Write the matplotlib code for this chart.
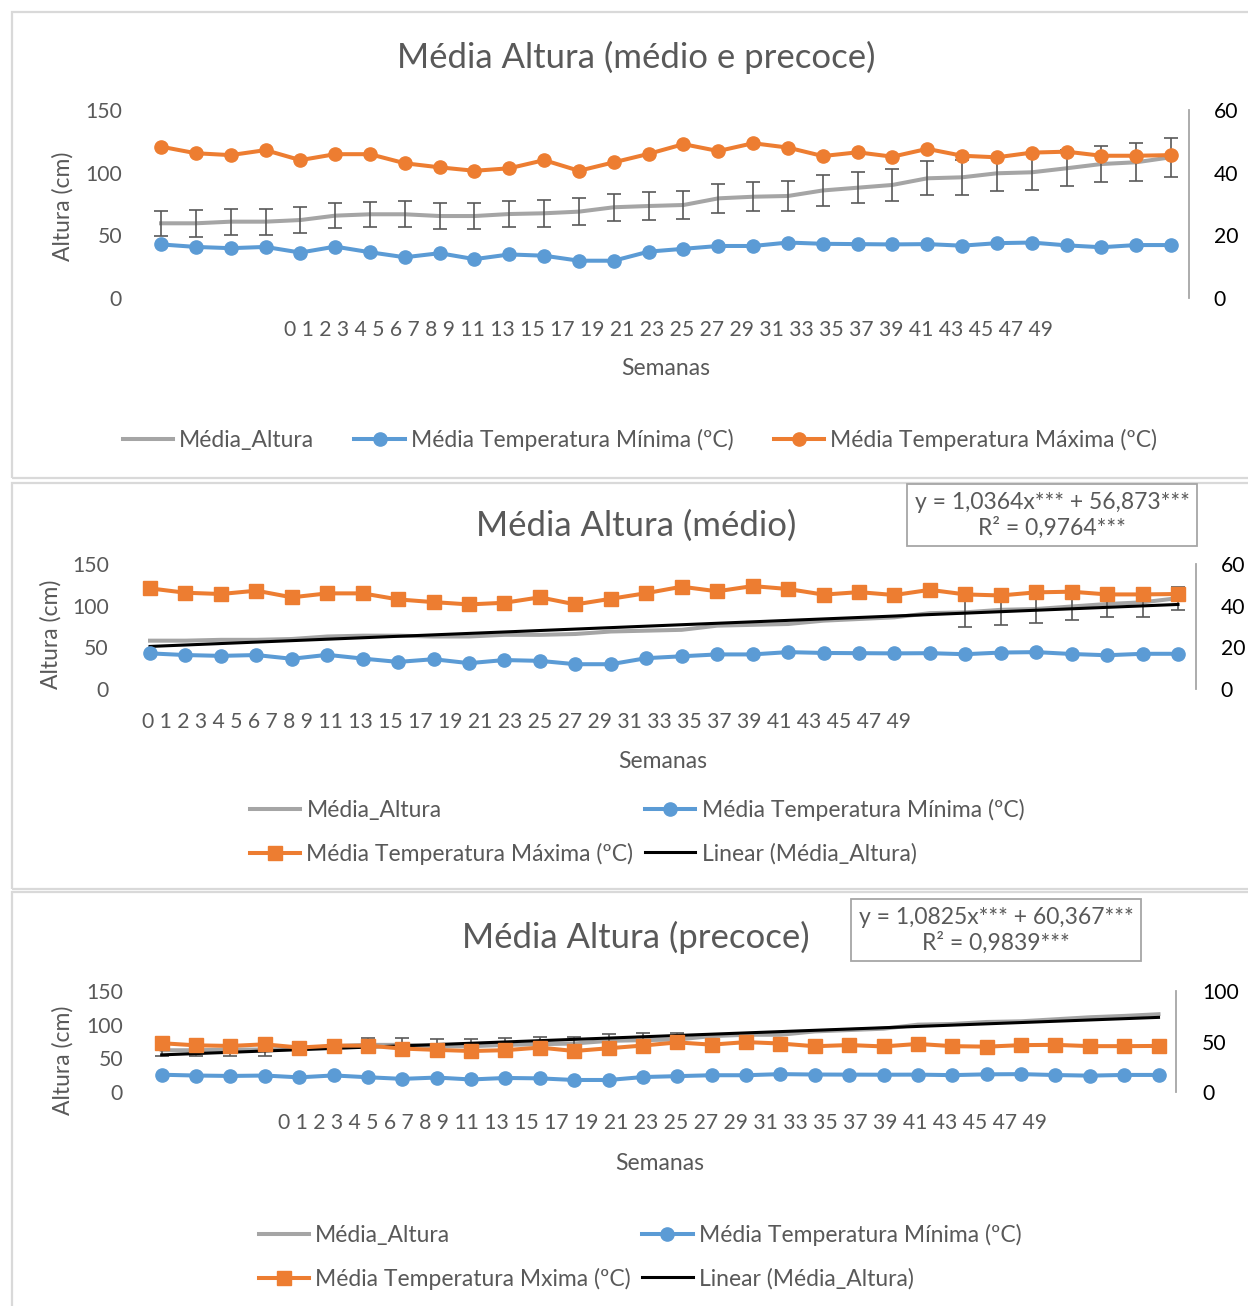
import numpy as np
import matplotlib
matplotlib.use("Agg")
import matplotlib.pyplot as plt
from matplotlib.patches import Rectangle

plt.rcParams['font.family'] = ['Lato', 'DejaVu Sans']

# -----------------------
# DATA
# -----------------------
semanas = [0, 1, 2, 3, 4, 5, 6, 7, 8, 9, 11, 13, 15, 17, 19, 21, 23, 25, 27, 29,
           31, 33, 35, 37, 39, 41, 43, 45, 47, 49]

temp_min = [17.1, 16.3, 15.9, 16.3, 14.5, 16.4, 14.6, 13.0, 14.3, 12.4,
            13.9, 13.5, 11.9, 11.9, 14.8, 15.7, 16.6, 16.6, 17.7, 17.3,
            17.2, 17.1, 17.2, 16.7, 17.5, 17.7, 16.8, 16.2, 16.9, 16.9]

temp_max = [48.3, 46.2, 45.6, 47.2, 44.0, 45.9, 45.9, 43.0, 41.7, 40.6,
            41.4, 44.0, 40.6, 43.3, 46.0, 49.1, 46.9, 49.4, 48.0, 45.3,
            46.5, 45.1, 47.6, 45.4, 44.9, 46.4, 46.7, 45.4, 45.4, 45.6]

altura_media = [59.6, 59.6, 60.9, 60.9, 62.2, 65.7, 66.8, 66.8, 65.4, 65.4,
                67.0, 67.6, 68.9, 72.4, 73.4, 74.2, 79.5, 80.8, 81.4, 85.8,
                88.0, 90.2, 95.5, 96.3, 99.5, 100.3, 103.5, 106.9, 108.3, 112.3]

altura_medio = [58, 58, 59, 59, 60, 63, 64, 64, 63, 63,
                65, 65, 66, 69, 70, 71, 76, 77, 78, 82,
                84, 86, 91, 92, 95, 96, 99, 102, 104, 109]

altura_precoce = [62, 62, 63, 63, 65, 68, 70, 70, 68, 68,
                  70, 71, 72, 76, 77, 78, 83, 85, 85, 90,
                  92, 94, 100, 101, 104, 105, 108, 111, 113, 115.5]

# standard deviation of height (0 = no bar shown)
erro_media = [10, 10.6, 10.3, 10.5, 10.1, 9.9, 10, 10.3, 10.5, 10.5,
              10.4, 10.6, 10.8, 10.9, 10.9, 11, 11.3, 11.5, 11.8, 12.1,
              12.6, 12.6, 13.6, 13.8, 13.9, 14.2, 14.4, 14.6, 15, 15.4]
erro_medio = [0] * 23 + [18, 18, 17, 16, 16, 17, 14]
erro_precoce = [9] * 6 + [10] * 10 + [0] * 14

eq_medio = "y = 1,0364x*** + 56,873***\nR² = 0,9764***"
eq_precoce = "y = 1,0825x*** + 60,367***\nR² = 0,9839***"

# -----------------------
# STYLE
# -----------------------
W, H, DPI = 1248, 1306, 100
GRAY = '#A5A5A5'
BLUE = '#5B9BD5'
ORANGE = '#ED7D31'
TXT = '#595959'
FS = 16.5       # legend / axis titles
FS_NUM = 15.2   # numbers on the axes


def fx(px):
    return px / W


def fy(py):
    return 1 - py / H


fig = plt.figure(figsize=(W / DPI, H / DPI), dpi=DPI)
x = np.arange(len(semanas))
week_text = " ".join(str(s) for s in semanas)

# chart frames
for y0, y1 in [(12, 478), (483, 889), (892, 1330)]:
    fig.patches.append(Rectangle((fx(12), fy(y1)), fx(1300), (y1 - y0) / H,
                                 transform=fig.transFigure, fill=False,
                                 ec='#D9D9D9', lw=1.6))


def draw_panel(box, title, title_y, altura, erro, rmax, rticks, max_marker,
               max_label, trend, ylab_xy, ticks_xy, xlab_xy, leg_xy, ncol,
               colspace, lpad, rpad, eq=None, eq_xy=None):
    x0, x1, ytop, ybot = box
    ax = fig.add_axes([fx(x0), fy(ybot), fx(x1) - fx(x0), (ybot - ytop) / H])
    ax.set_xlim(-0.5, len(x) - 0.5)
    ax.set_ylim(0, 150)
    ax.set_yticks([0, 50, 100, 150])
    ax.set_xticks([])
    for s in ax.spines.values():
        s.set_visible(False)
    ax.tick_params(axis='y', length=0, pad=lpad, labelsize=FS_NUM, labelcolor=TXT)

    alt = np.array(altura)
    err = np.array(erro, dtype=float)
    l_alt, = ax.plot(x, alt, color=GRAY, lw=2.9, zorder=2)
    m = err > 0
    ax.errorbar(x[m], alt[m], yerr=err[m], fmt='none', ecolor='#595959',
                elinewidth=1.2, capsize=5, capthick=1.2, zorder=3)
    if trend:
        coef = np.polyfit(x, alt, 1)
        l_tr, = ax.plot(x, np.polyval(coef, x), color='black', lw=2.2, zorder=4)

    ax2 = ax.twinx()
    ax2.set_ylim(0, rmax)
    ax2.set_yticks(rticks)
    for k, s in ax2.spines.items():
        s.set_visible(k == 'right')
    ax2.spines['right'].set_color('#A6A6A6')
    ax2.spines['right'].set_linewidth(1.3)
    ax2.tick_params(axis='y', length=0, pad=rpad, labelsize=FS_NUM,
                    labelcolor='black')
    l_min, = ax2.plot(x, temp_min, color=BLUE, lw=2.9, marker='o', ms=9.5)
    l_max, = ax2.plot(x, temp_max, color=ORANGE, lw=2.9, marker=max_marker, ms=9.5)

    fig.text(fx(636), fy(title_y), title, ha='center', va='center',
             fontsize=25, color=TXT)
    fig.text(fx(ylab_xy[0]), fy(ylab_xy[1]), 'Altura (cm)', rotation=90,
             ha='center', va='center', fontsize=FS, color=TXT)
    fig.text(fx(ticks_xy[0]), fy(ticks_xy[1]), week_text, ha='center',
             va='center', fontsize=FS_NUM, color=TXT)
    fig.text(fx(xlab_xy[0]), fy(xlab_xy[1]), 'Semanas', ha='center',
             va='center', fontsize=FS, color=TXT)

    if trend:
        handles = [l_alt, l_max, l_min, l_tr]
        labels = ['Média_Altura', max_label, 'Média Temperatura Mínima (ºC)',
                  'Linear (Média_Altura)']
    else:
        handles = [l_alt, l_min, l_max]
        labels = ['Média_Altura', 'Média Temperatura Mínima (ºC)', max_label]
    fig.legend(handles, labels, loc='center',
               bbox_to_anchor=(fx(leg_xy[0]), fy(leg_xy[1])), ncol=ncol,
               frameon=False, fontsize=FS, labelcolor=TXT, handlelength=2.2,
               handletextpad=0.27, columnspacing=colspace, labelspacing=0.95,
               borderpad=0)

    if eq:
        fig.text(fx(eq_xy[0]), fy(eq_xy[1]), eq, ha='center', va='center',
                 multialignment='center', fontsize=FS, color=TXT,
                 bbox=dict(boxstyle='square,pad=0.35', fc='white',
                           ec='#A6A6A6', lw=1.3))


# -----------------------
# CHARTS
# -----------------------
draw_panel((143.6, 1188.5, 110, 298), 'Média Altura (médio e precoce)', 57,
           altura_media, erro_media, 60, [0, 20, 40, 60], 'o',
           'Média Temperatura Máxima (ºC)', False,
           (63, 206), (669, 330), (666, 368), (640, 440), 3, 1.75, 15.5, 18)

draw_panel((132.3, 1195.7, 564, 689), 'Média Altura (médio)', 526,
           altura_medio, erro_medio, 60, [0, 20, 40, 60], 's',
           'Média Temperatura Máxima (ºC)', True,
           (51, 634), (526, 722), (663, 761), (637, 832), 2, 0.5, 17, 18,
           eq_medio, (1052, 515))

draw_panel((144.5, 1175.7, 991, 1092), 'Média Altura (precoce)', 937,
           altura_precoce, erro_precoce, 100, [0, 50, 100], 's',
           'Média Temperatura Mxima (ºC)', True,
           (63, 1060), (663, 1123), (660, 1163), (640, 1257), 2, 0.5, 15.5, 19,
           eq_precoce, (996, 930))

fig.savefig('out.png', dpi=DPI)
